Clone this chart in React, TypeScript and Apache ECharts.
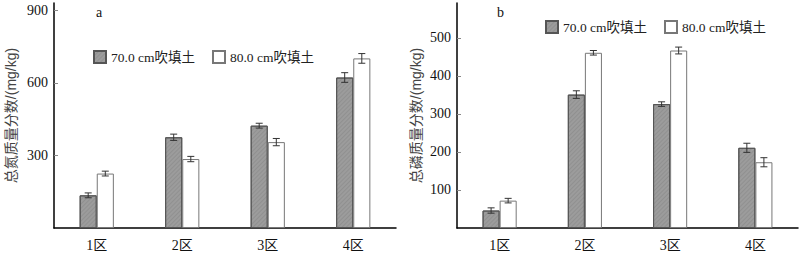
import React, { useEffect, useRef } from "react";
import * as echarts from "echarts";

const categories = ["1区", "2区", "3区", "4区"];
const seriesNames = ["70.0 cm吹填土", "80.0 cm吹填土"];

const nitrogen70 = [135, 375, 423, 622];
const nitrogen70Err = [10, 13, 10, 20];
const nitrogen80 = [225, 285, 355, 701];
const nitrogen80Err = [10, 11, 15, 20];

const phosphorus70 = [46, 351, 326, 211];
const phosphorus70Err = [7, 10, 6, 12];
const phosphorus80 = [72, 461, 467, 173];
const phosphorus80Err = [6, 6, 9, 12];

const nitrogenTicks = [300, 600, 900];
const phosphorusTicks = [100, 200, 300, 400, 500];

const SERIF = "'Liberation Serif', 'Noto Sans CJK SC', serif";
const SANS = "'Liberation Sans', 'Noto Sans CJK SC', sans-serif";

function errorSeries(values: number[], errs: number[], side: number, axisIndex: number) {
  return {
    type: "custom",
    xAxisIndex: axisIndex,
    yAxisIndex: axisIndex,
    z: 10,
    silent: true,
    data: values.map((v, i) => [i, v, errs[i]]),
    encode: { x: 0, y: 1 },
    renderItem: (params: any, api: any) => {
      const x = api.value(0);
      const v = api.value(1);
      const e = api.value(2);
      const top = api.coord([x, v + e]);
      const bot = api.coord([x, v - e]);
      const band = api.size([1, 0])[0];
      const bw = band * 0.2;
      const cx = top[0] + (side * bw) / 2;
      const cap = 3.5;
      const style = { stroke: "#333", lineWidth: 1 };
      return {
        type: "group",
        children: [
          { type: "line", shape: { x1: cx, y1: top[1], x2: cx, y2: bot[1] }, style },
          { type: "line", shape: { x1: cx - cap, y1: top[1], x2: cx + cap, y2: top[1] }, style },
          { type: "line", shape: { x1: cx - cap, y1: bot[1], x2: cx + cap, y2: bot[1] }, style },
        ],
      };
    },
  };
}

const darkStyle = {
  color: "#9c9c9c",
  borderColor: "#555",
  borderWidth: 1,
  decal: {
    symbol: "rect",
    dashArrayX: [1, 0],
    dashArrayY: [1, 2],
    rotation: -Math.PI / 4,
    color: "rgba(60,60,60,0.12)",
  },
};
const whiteStyle = { color: "#ffffff", borderColor: "#777", borderWidth: 1 };

function barSeries(name: string, values: number[], style: any, axisIndex: number) {
  return {
    type: "bar",
    name,
    xAxisIndex: axisIndex,
    yAxisIndex: axisIndex,
    data: values,
    barWidth: "20%",
    barGap: "0%",
    itemStyle: style,
  };
}

export default function App() {
  const ref = useRef<HTMLDivElement>(null);
  useEffect(() => {
    if (!ref.current) return;
    const chart = echarts.init(ref.current, null, { renderer: "svg" });
    const xAxisCommon = {
      type: "category",
      data: categories,
      axisLine: { lineStyle: { color: "#000", width: 1.5 } },
      axisTick: { show: false },
      axisLabel: { fontFamily: SERIF, fontSize: 14, color: "#111", margin: 10 },
    };
    const yAxisCommon = {
      type: "value",
      min: 0,
      splitLine: { show: false },
      axisLine: { show: true, lineStyle: { color: "#000", width: 1.5 } },
      nameLocation: "middle",
      nameRotate: 90,
      nameTextStyle: { fontFamily: SANS, fontSize: 14, color: "#444" },
    };
    const legendCommon = {
      data: seriesNames,
      icon: "rect",
      itemWidth: 12,
      itemHeight: 12,
      itemGap: 17,
      textStyle: { fontFamily: SERIF, fontSize: 13.5, color: "#222" },
      selectedMode: false,
    };
    chart.setOption({
      animation: false,
      backgroundColor: "#fff",
      grid: [
        { left: 54, top: 3, width: 342, height: 225 },
        { left: 457, top: 3, width: 341, height: 225 },
      ],
      xAxis: [
        { ...xAxisCommon, gridIndex: 0 },
        { ...xAxisCommon, gridIndex: 1 },
      ],
      yAxis: [
        {
          ...yAxisCommon,
          gridIndex: 0,
          max: 930,
          name: "总氮质量分数/(mg/kg)",
          nameGap: 36,
          axisTick: { show: true, inside: true, length: 4, lineStyle: { color: "#888" }, customValues: nitrogenTicks },
          axisLabel: { fontFamily: SERIF, fontSize: 14, color: "#111", margin: 6, customValues: nitrogenTicks },
        },
        {
          ...yAxisCommon,
          gridIndex: 1,
          max: 592,
          name: "总磷质量分数/(mg/kg)",
          nameGap: 34,
          axisTick: { show: true, inside: true, length: 4, lineStyle: { color: "#888" }, customValues: phosphorusTicks },
          axisLabel: { fontFamily: SERIF, fontSize: 14, color: "#111", margin: 6, customValues: phosphorusTicks },
        },
      ],
      legend: [
        { ...legendCommon, left: 88, top: 45 },
        { ...legendCommon, left: 540, top: 15 },
      ],
      graphic: [
        { type: "text", left: 96, top: 5, style: { text: "a", fontFamily: SERIF, fontSize: 14, fill: "#111" } },
        { type: "text", left: 497, top: 5, style: { text: "b", fontFamily: SERIF, fontSize: 14, fill: "#111" } },
      ],
      series: [
        barSeries(seriesNames[0], nitrogen70, darkStyle, 0),
        barSeries(seriesNames[1], nitrogen80, whiteStyle, 0),
        errorSeries(nitrogen70, nitrogen70Err, -1, 0),
        errorSeries(nitrogen80, nitrogen80Err, 1, 0),
        barSeries(seriesNames[0], phosphorus70, darkStyle, 1),
        barSeries(seriesNames[1], phosphorus80, whiteStyle, 1),
        errorSeries(phosphorus70, phosphorus70Err, -1, 1),
        errorSeries(phosphorus80, phosphorus80Err, 1, 1),
      ],
    });
    return () => chart.dispose();
  }, []);
  return (
    <div
      ref={ref}
      style={{ position: "fixed", left: 0, top: 0, width: 800, height: 254, background: "#fff" }}
    />
  );
}
